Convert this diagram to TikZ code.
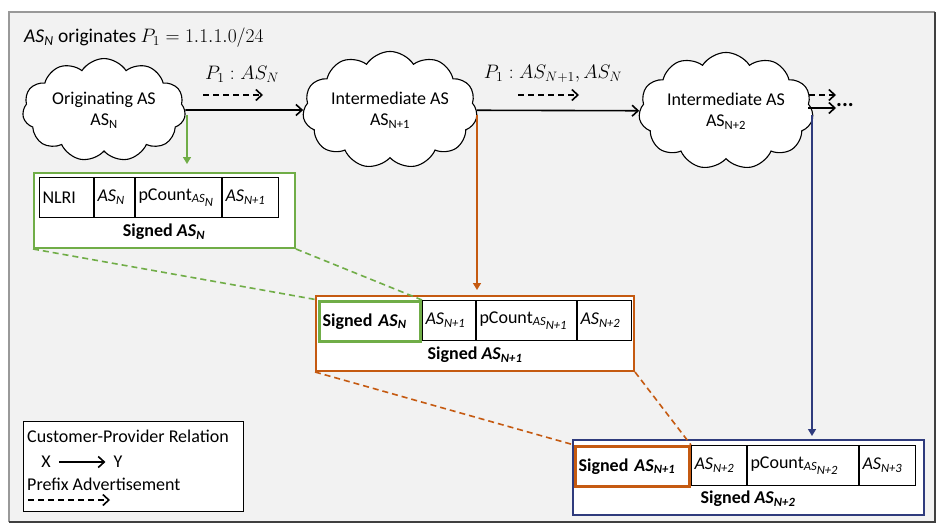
\documentclass[tikz,border=0pt]{standalone}
\usepackage{fix-cm}
\usepackage{amsmath}
\usepackage{fontspec}
\setmainfont{Carlito}
\usetikzlibrary{shapes.symbols,arrows.meta}
\definecolor{bgc}{HTML}{F2F2F2}
\definecolor{grn}{HTML}{70AD47}
\definecolor{org}{HTML}{C55A11}
\definecolor{nvy}{HTML}{2F3B7D}
\newcommand\asi[1]{\textit{AS}$_{\text{\itshape #1}}$}
\newcommand\pc[1]{pCount$_{\text{\itshape AS}_{\scriptstyle\text{\itshape #1}}}$}
\tikzset{
  basefont/.style={font=\fontsize{18}{21}\selectfont},
  boldfont/.style={font=\fontsize{18}{21}\selectfont\bfseries},
  cloudnode/.style={cloud, cloud puffs=11, cloud puff arc=115, aspect=1.75, draw, fill=white,
    line width=1.1pt, minimum width=163pt, minimum height=96pt, inner sep=0pt, align=center},
  rel/.style={line width=1.6pt, -{Straight Barb[length=6pt,width=11pt,line width=1.6pt]}},
  adv/.style={line width=1.6pt, dash pattern=on 6pt off 4pt, -{Straight Barb[length=6pt,width=11pt,line width=1.6pt]}},
  carrow/.style={line width=1.5pt, -{Triangle[length=7pt,width=8pt]}},
  cell/.style={draw=black, line width=1pt, minimum height=40pt, inner xsep=3pt, inner ysep=0pt,
    text width=#1, align=left, anchor=north west},
  bigbox/.style={line width=2pt, fill=white, inner sep=0pt, anchor=north west},
  link/.style={line width=1.6pt, dash pattern=on 6pt off 4pt},
  lbl/.style={inner sep=0pt}
}
\begin{document}
\begin{tikzpicture}[x=1pt, y=-1pt, basefont]
\useasboundingbox (0,0) rectangle (944,532);
% background
\fill[bgc] (9,12) rectangle (935,522);
\draw[gray!80, line width=1.2pt] (9,522) -- (9,12) -- (935,12);
\draw[black!75, line width=1.8pt] (935,12) -- (935,522) -- (9,522);

% title
\node[lbl, anchor=west, font=\fontsize{19.5}{22}\selectfont] (title) at (24,38) {\asi{N} originates $P_1 = 1.1.1.0/24$};

% clouds
\node[cloudnode] (c1) at (104,110) {Originating AS\\AS$_{\text{N}}$};
\node[cloudnode] (c2) at (390,110) {Intermediate AS\\AS$_{\text{N+1}}$};
\node[cloudnode] (c3) at (726,111) {Intermediate AS\\AS$_{\text{N+2}}$};

% relations
\draw[rel] (c1) -- (c2);
\draw[rel] (c2) -- (c3);
\coordinate (c3out) at (808,108);
\coordinate (dotsat) at (836,108);
\draw[rel] (c3out) -- (dotsat);
\node[lbl, anchor=west, font=\fontsize{22}{22}\selectfont\bfseries] (dots) at (836,105) {...};

% advertisements
\node[lbl, font=\fontsize{19.5}{21}\selectfont] (p1) at (242,74) {$P_1 : AS_N$};
\coordinate (a1s) at (203,95); \coordinate (a1e) at (263,95);
\draw[adv] (a1s) -- (a1e);
\node[lbl, font=\fontsize{19.5}{21}\selectfont] (p2) at (553,74) {$P_1 : AS_{N+1}, AS_N$};
\coordinate (a2s) at (518,95); \coordinate (a2e) at (579,95);
\draw[adv] (a2s) -- (a2e);
\coordinate (a3s) at (809,95); \coordinate (a3e) at (836,95);
\draw[adv] (a3s) -- (a3e);

% vertical colored arrows
\coordinate (gs) at (187,115); \coordinate (ge) at (187,164);
\draw[carrow, grn] (gs) -- (ge);
\coordinate (os) at (477,115); \coordinate (oe) at (477,290);
\draw[carrow, org] (os) -- (oe);
\coordinate (bs) at (812,115); \coordinate (be) at (812,436);
\draw[carrow, nvy] (bs) -- (be);

% green box
\node[bigbox, draw=grn, minimum width=261pt, minimum height=75pt] (gbox) at (33,172) {};
\node[cell=48pt] (g1) at (39,177) {NLRI};
\node[cell=34pt] (g2) at (g1.north east) {\asi{N}};
\node[cell=80pt] (g3) at (g2.north east) {\pc{N}};
\node[cell=50pt] (g4) at (g3.north east) {\asi{N+1}};
\node[lbl, boldfont] (gt) at (164,232) {Signed \asi{N}};

% orange box
\node[bigbox, draw=org, minimum width=318pt, minimum height=75pt] (obox) at (315,295) {};
\node[cell=47pt] (o2) at (422,300) {\asi{N+1}};
\node[cell=94pt] (o3) at (o2.north east) {\pc{N+1}};
\node[cell=48pt] (o4) at (o3.north east) {\asi{N+2}};
\node[cell=95pt, draw=grn, line width=2.8pt, anchor=north east, boldfont] (o1) at (o2.north west) {Signed \asi{N}};
\node[lbl, boldfont] (ot) at (475,355) {Signed \asi{N+1}};

% blue box
\node[bigbox, draw=nvy, minimum width=351pt, minimum height=75pt] (bbox) at (572,439) {};
\node[cell=49pt] (b2) at (691,445) {\asi{N+2}};
\node[cell=105pt] (b3) at (b2.north east) {\pc{N+2}};
\node[cell=50pt] (b4) at (b3.north east) {\asi{N+3}};
\node[cell=108pt, draw=org, line width=2.8pt, anchor=north east, boldfont] (b1) at (b2.north west) {Signed \asi{N+1}};
\node[lbl, boldfont] (bt) at (748,499) {Signed \asi{N+2}};

% links
\draw[link, grn] (gbox.south west) -- (o1.north west);
\draw[link, grn] (gbox.south east) -- (o1.north east);
\draw[link, org] (obox.south west) -- (b1.north west);
\draw[link, org] (obox.south east) -- (b1.north east);

% legend
\node[bigbox, draw=black, line width=1.3pt, minimum width=220pt, minimum height=90pt] (leg) at (23,421) {};
\node[lbl, anchor=west] (lt1) at (27,436) {Customer-Provider Relation};
\node[lbl] (lx) at (46,462) {X};
\node[lbl] (ly) at (118,462) {Y};
\draw[rel, line width=1.3pt, shorten <=8pt, shorten >=8pt] (lx) -- (ly);
\node[lbl, anchor=west] (lt2) at (27,484) {Prefix Advertisement};
\coordinate (ld1) at (28,500); \coordinate (ld2) at (110,500);
\draw[adv, line width=1.3pt] (ld1) -- (ld2);
\end{tikzpicture}
\end{document}
